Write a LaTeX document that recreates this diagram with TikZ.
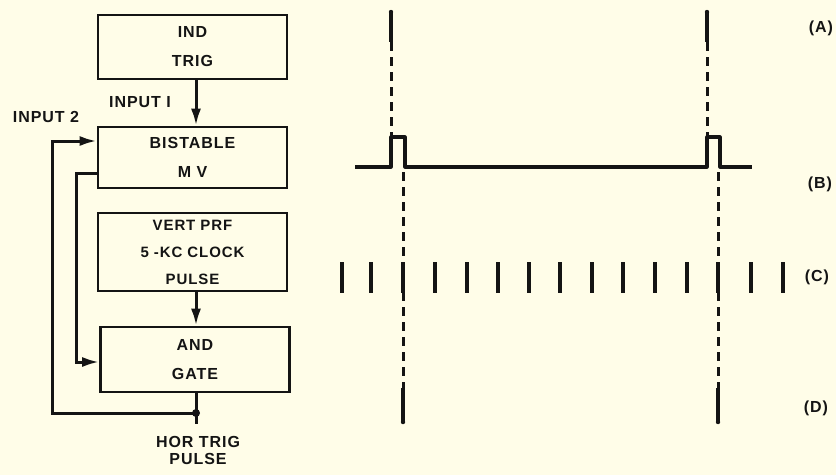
\documentclass[tikz,border=0pt]{standalone}
\usepackage{fontspec}
\setmainfont{Liberation Sans}[LetterSpace=6]
\usetikzlibrary{arrows.meta}
\definecolor{paper}{RGB}{255,253,232}
\definecolor{ink}{RGB}{20,20,20}
\begin{document}
\begin{tikzpicture}[x=1pt,y=-1pt,
  blk/.style={draw=ink,line width=2.6pt,minimum width=189pt,inner sep=0pt,align=center,font=\fontsize{16}{29}\selectfont\bfseries,text=ink},
  wire/.style={draw=ink,line width=3pt},
  arr/.style={wire,-{Latex[length=17pt,width=10pt]}},
  lbl/.style={font=\fontsize{16}{17}\selectfont\bfseries,text=ink,inner sep=0pt,align=center},
  dsh/.style={draw=ink,line width=3pt,dash pattern=on 9pt off 6pt},
  sol/.style={draw=ink,line width=3.2pt},
  tick/.style={draw=ink,line width=3.2pt}]
\fill[paper] (0,0) rectangle (836,475);
\useasboundingbox (0,0) rectangle (836,475);
% blocks
\node[blk,minimum height=64pt] (ind) at (192.5,47) {IND\\TRIG};
\node[blk,minimum height=61pt] (bmv) at (192.5,157.5) {BISTABLE\\M V};
\node[blk,minimum height=78pt,font=\fontsize{15}{27}\selectfont\bfseries] (vert) at (192.5,252) {VERT PRF\\5 -KC CLOCK\\PULSE};
\node[blk,minimum height=65pt] (gate) at (195,359.5) {AND\\GATE};
% labels
\node[lbl] (in1) at (140,102) {INPUT I};
\node[lbl] (in2) at (46,117) {INPUT 2};
\node[lbl] (hor) at (198,450) {HOR TRIG\\PULSE};
% connectors
\draw[arr] (ind.south -| 196,0) -- (bmv.north -| 196,0);
\draw[arr] (vert.south -| 196,0) -- (gate.north -| 196,0);
\coordinate (jn) at (196,413);
\coordinate (outend) at (196,424);
\draw[wire] (gate.south -| 196,0) -- (outend);
\fill[ink] (jn) circle (4pt);
\draw[arr] (jn) -- (52,413) -- (52,141) -- (bmv.west |- 0,141);
\draw[arr] (bmv.west |- 0,173) -- (76,173) -- (76,362) -- (gate.west |- 0,362);
% waveform A
\coordinate (a1t) at (391,12);
\coordinate (a1m) at (391,42);
\coordinate (a1b) at (391,137);
\coordinate (a2t) at (707,12);
\coordinate (a2m) at (707,42);
\coordinate (a2b) at (707,137);
\draw[sol] (a1t) -- (a1m);
\draw[sol] (a2t) -- (a2m);
\fill[ink] (a1t) circle (2.2pt) (a2t) circle (2.2pt);
\draw[dsh] (a1m) -- (a1b);
\draw[dsh] (a2m) -- (a2b);
% waveform B
\draw[sol,line join=round] (355,167) -- (391,167) -- (391,137) -- (405,137) -- (405,167)
  -- (707,167) -- (707,137) -- (720,137) -- (720,167) -- (752,167);
% dashed to D
\coordinate (d1t) at (403,388);
\coordinate (d1b) at (403,422);
\coordinate (d2t) at (718,388);
\coordinate (d2b) at (718,422);
\draw[dsh] (403,172) -- (d1t);
\draw[dsh] (718,172) -- (d2t);
\draw[sol] (d1t) -- (d1b);
\draw[sol] (d2t) -- (d2b);
\fill[ink] (d1b) circle (2.2pt) (d2b) circle (2.2pt);
% waveform C
\foreach \x in {342,371,403,435,467,498,529,560,592,623,655,687,718,751,783}
  \draw[tick] (\x,262) -- (\x,293);
% row labels
\node[lbl] (la) at (821,28) {(A)};
\node[lbl] (lb) at (820,184) {(B)};
\node[lbl] (lc) at (817,277) {(C)};
\node[lbl] (ld) at (816,408) {(D)};
\end{tikzpicture}
\end{document}
